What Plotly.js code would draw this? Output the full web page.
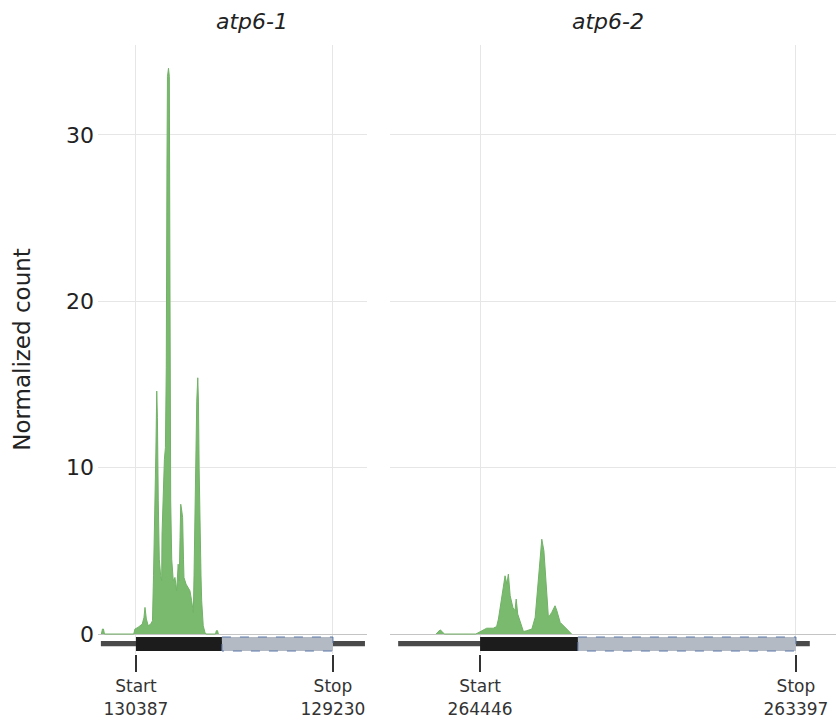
<!DOCTYPE html>
<html>
<head>
<meta charset="utf-8">
<script src="https://cdn.plot.ly/plotly-3.0.1.min.js"></script>
<style>html,body{margin:0;padding:0;background:#fff;}#chart{width:838px;height:719px;}</style>
</head>
<body>
<div id="chart"></div>
<script>
// ---- data ----
const geneNames = ['atp6-1', 'atp6-2'];
const geneStart = [130387, 264446];
const geneStop = [129230, 263397];
const cdsSplit = [129882, 264121];      // end of the black (covered) block
const flankLeft = [130593, 264718];     // extent of the flanking thin bar
const flankRight = [129042, 263351];
const yTicks = [0, 10, 20, 30];

const cov1Pos = [130590,130584,130578,130572,130400,130393,130375,130364,130350,130340,130334,130326,130315,130300,130290,130284,130278,130270,130265,130261,130256,130250,130242,130236,130234,130227,130220,130214,130209,130205,130202,130196,130191,130187,130183,130177,130168,130158,130148,130139,130133,130128,130124,130118,130113,130108,130105,130093,130080,130070,130060,130050,130046,130041,130036,130030,130024,130020,130016,130011,130005,130001,129992,129982,129976,129920,129915,129908,129903];
const cov1Val = [0,0.3,0.3,0,0,0.3,0.4,0.5,0.6,1.0,1.6,0.9,0.5,0.6,0.8,3.5,6,11,14.6,13,8,4.5,3.5,3.2,6,8.5,10.5,11.2,16,28,33.5,34,33.5,20,8,4.5,3.2,3.4,2.6,4.2,3.2,5.8,7.8,7.4,7.0,4.5,3.4,3.0,2.8,2.6,2.0,1.3,3.5,7,11,14,15.4,14,10,6,3.5,2.0,0.5,0.1,0,0,0.2,0.2,0];

const cov2Pos = [264592,264585,264579,264572,264565,264460,264450,264440,264424,264402,264391,264385,264380,264371,264366,264363,264357,264352,264346,264337,264330,264326,264321,264313,264302,264291,264274,264263,264252,264245,264241,264234,264227,264219,264208,264197,264191,264180,264158,264147,264142];
const cov2Val = [0,0.15,0.25,0.15,0,0,0.1,0.2,0.35,0.35,0.45,0.9,1.5,2.5,3.3,3.5,3.0,3.6,2.3,1.6,1.4,2.1,1.2,0.8,0.15,0.2,0.3,1.0,3.5,5.3,5.7,5.0,3.0,1.0,1.3,1.7,1.4,0.7,0.3,0.1,0];

// ---- traces ----
const green = '#7aba6f';
const traces = [
  {x: cov1Pos, y: cov1Val, xaxis: 'x', yaxis: 'y', type: 'scatter', mode: 'lines',
   fill: 'tozeroy', fillcolor: green, line: {color: '#72b267', width: 1}, hoverinfo: 'skip', showlegend: false},
  {x: cov2Pos, y: cov2Val, xaxis: 'x2', yaxis: 'y2', type: 'scatter', mode: 'lines',
   fill: 'tozeroy', fillcolor: green, line: {color: '#72b267', width: 1}, hoverinfo: 'skip', showlegend: false}
];

// gene track shapes built from gene arrays
const shapes = [];
['', '2'].forEach((s, i) => {
  const xr = 'x' + s, yr = 'y' + s;
  shapes.push({type: 'rect', xref: xr, yref: yr, x0: flankLeft[i], x1: flankRight[i], y0: -0.42, y1: -0.74,
    fillcolor: '#4a4a4a', line: {width: 0}, layer: 'above'});
  shapes.push({type: 'rect', xref: xr, yref: yr, x0: geneStart[i], x1: cdsSplit[i], y0: -0.18, y1: -1.02,
    fillcolor: '#1c1c1c', line: {width: 0}, layer: 'above'});
  shapes.push({type: 'rect', xref: xr, yref: yr, x0: cdsSplit[i], x1: geneStop[i], y0: -0.18, y1: -1.02,
    fillcolor: '#b4bac3', line: {color: '#5a76a8', width: 1, dash: 'dash'}, layer: 'above'});
});

const fontFam = 'DejaVu Sans, Arial, sans-serif';
const xCommon = {
  showgrid: true, gridcolor: '#e6e6e6', gridwidth: 1, zeroline: false, showline: false,
  ticks: 'outside', ticklen: 17, tickwidth: 1.5, tickcolor: '#333',
  tickfont: {family: fontFam, size: 17, color: '#333'}, autorange: false
};
const yCommon = {
  range: [-1.2, 35.4], tickvals: yTicks, showgrid: true, gridcolor: '#e6e6e6', gridwidth: 1,
  zeroline: true, zerolinecolor: '#c4c4c4', zerolinewidth: 1, showline: false, ticks: ''
};

const layout = {
  width: 838, height: 719,
  margin: {l: 98, r: 2, t: 45, b: 65},
  paper_bgcolor: '#fff', plot_bgcolor: '#fff',
  font: {family: fontFam, color: '#222'},
  xaxis: Object.assign({}, xCommon, {domain: [0, 0.3645], range: [130610, 129030],
    tickvals: [geneStart[0], geneStop[0]],
    ticktext: ['Start<br>' + geneStart[0], 'Stop<br>' + geneStop[0]], anchor: 'y'}),
  xaxis2: Object.assign({}, xCommon, {domain: [0.3957, 1], range: [264745, 263264],
    tickvals: [geneStart[1], geneStop[1]],
    ticktext: ['Start<br>' + geneStart[1], 'Stop<br>' + geneStop[1]], anchor: 'y2'}),
  yaxis: Object.assign({}, yCommon, {anchor: 'x',
    tickfont: {family: fontFam, size: 22, color: '#222'}, ticklabelstandoff: 3,
    title: {text: 'Normalized count', font: {family: fontFam, size: 23, color: '#222'}, standoff: 28}}),
  yaxis2: Object.assign({}, yCommon, {anchor: 'x2', matches: 'y', showticklabels: false}),
  shapes: shapes,
  annotations: [
    {text: '<i>' + geneNames[0] + '</i>', xref: 'paper', yref: 'paper', x: 0.2087, y: 1.0378,
     xanchor: 'center', yanchor: 'middle', showarrow: false, font: {family: fontFam, size: 22, color: '#222'}},
    {text: '<i>' + geneNames[1] + '</i>', xref: 'paper', yref: 'paper', x: 0.691, y: 1.0378,
     xanchor: 'center', yanchor: 'middle', showarrow: false, font: {family: fontFam, size: 22, color: '#222'}}
  ]
};

Plotly.newPlot('chart', traces, layout, {displayModeBar: false, staticPlot: true});
</script>
</body>
</html>
